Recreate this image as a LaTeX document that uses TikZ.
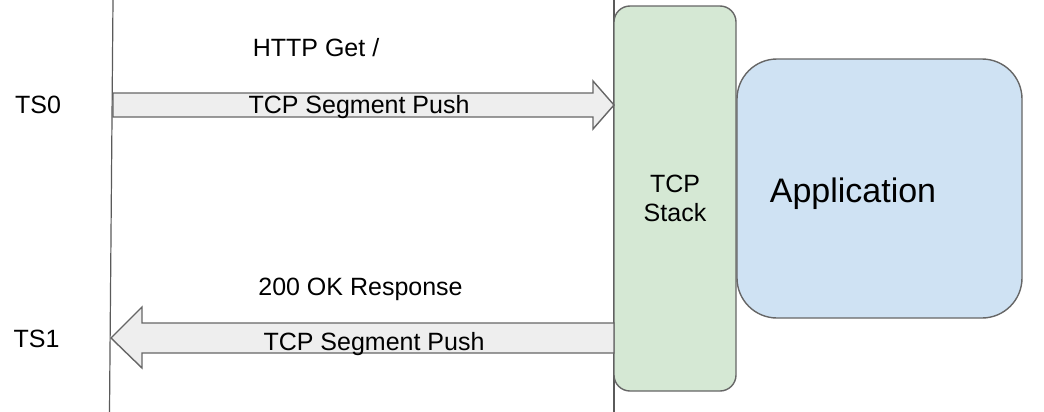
\documentclass[tikz,border=0pt]{standalone}
\usepackage{fontspec}
\setmainfont{Liberation Sans}
\usepackage{tikz}
\usetikzlibrary{positioning}
\definecolor{stackgreen}{RGB}{213,232,212}
\definecolor{appblue}{RGB}{207,226,243}
\definecolor{pushgray}{RGB}{238,238,238}
\definecolor{edgegray}{RGB}{102,102,102}
\definecolor{linegray}{RGB}{90,90,90}
\tikzstyle{stackbox} = [rectangle, rounded corners=8pt, draw=edgegray, fill=stackgreen, line width=0.7pt, align=center, font=\fontsize{12.5}{14.5}\selectfont]
\tikzstyle{appbox} = [rectangle, rounded corners=20pt, draw=edgegray, fill=appblue, line width=0.7pt]
\tikzstyle{pusharrow} = [draw=edgegray, fill=pushgray, line width=0.7pt, line join=miter]
\tikzstyle{lifeline} = [draw=linegray, line width=0.6pt]
\tikzstyle{msg} = [anchor=base, inner sep=0pt, font=\fontsize{12.5}{15}\selectfont]

\begin{document}
\begin{tikzpicture}[x=0.5pt, y=-0.5pt]
\useasboundingbox (0,0) rectangle (1044,412);

% lifelines
\coordinate (clienttop) at (113,0);
\coordinate (clientbot) at (109.5,412);
\coordinate (servertop) at (614,0);
\coordinate (serverbot) at (614,412);
\draw[lifeline] (clienttop) -- (clientbot);
\draw[lifeline] (servertop) -- (serverbot);

% TCP Stack and Application
\node[stackbox, minimum width=61pt, minimum height=192.5pt] (stack) at (675,198.5) {TCP\\Stack};
\node[appbox, minimum width=142.5pt, minimum height=129.5pt] (app) at (879.5,188.5) {};
\node[msg, font=\fontsize{17}{20}\selectfont] (apptext) at (853,202) {Application};

% request
\draw[pusharrow] (113,93) -- (593,93) -- (593,81) -- (614,105) -- (593,129) -- (593,117) -- (113,117) -- cycle;
\node[msg] (getlabel) at (316,56) {HTTP Get /};
\node[msg] (pushin) at (359,113) {TCP Segment Push};
\node[msg] (ts0) at (38,113) {TS0};

% response
\draw[pusharrow] (614,323) -- (142,323) -- (142,307) -- (111,338) -- (142,368) -- (142,353) -- (614,353) -- cycle;
\node[msg] (oklabel) at (360.5,295) {200 OK Response};
\node[msg] (pushout) at (374,350) {TCP Segment Push};
\node[msg] (ts1) at (36.5,347) {TS1};
\end{tikzpicture}
\end{document}
